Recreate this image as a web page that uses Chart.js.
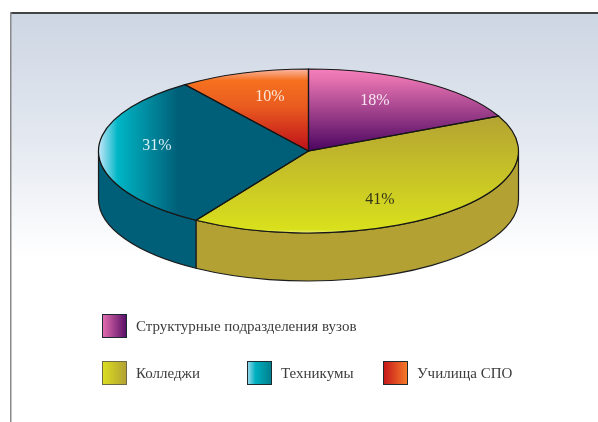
<!DOCTYPE html>
<html>
<head>
<meta charset="utf-8">
<style>
html, body { margin: 0; padding: 0; background: #fff; }
canvas { display: block; }
</style>
<script src="https://cdn.jsdelivr.net/npm/chart.js@4"></script>
</head>
<body>
<canvas id="chart" width="598" height="422"></canvas>
<script>
// --- data ---
const categories = ['Структурные подразделения вузов', 'Колледжи', 'Техникумы', 'Училища СПО'];
const shares = [18, 41, 31, 10];
const shareLabels = ['18%', '41%', '31%', '10%'];

// --- layout ---
const labelSpots = [[375, 101], [380, 200], [157, 146], [270, 97]];
const labelColors = ['#f6e8f2', '#33351a', '#d8f0f4', '#fbe6d8'];
const legendSpots = [[102, 314], [102, 361], [247, 361], [383, 361]];
const wallColors = ['#4d0a5e', '#b3a233', '#005f78', '#c01018'];
const topY = 151, squash = 82 / 210, wallDepth = 48;

// stops are in units of the pie radius, measured from the centre
function sliceFill(chart, i) {
    const area = chart.chartArea;
    if (!area) return wallColors[i];
    const c = chart.ctx;
    const cx = (area.left + area.right) / 2, cy = (area.top + area.bottom) / 2, r = 210;
    let g;
    if (i === 0) {
        g = c.createLinearGradient(0, cy - r, 0, cy);
        g.addColorStop(0, '#f57fbc');
        g.addColorStop(0.12, '#e672b0');
        g.addColorStop(1, '#4a0560');
    } else if (i === 1) {
        g = c.createLinearGradient(0, cy - 0.45 * r, 0, cy + r);
        g.addColorStop(0, '#b3a233');
        g.addColorStop(0.97, '#d9e01c');
        g.addColorStop(1, '#eef07a');
    } else if (i === 2) {
        g = c.createLinearGradient(cx - r, 0, cx - 0.62 * r, 0);
        g.addColorStop(0, '#c4e8fa');
        g.addColorStop(0.24, '#00b6c6');
        g.addColorStop(0.34, '#00aabb');
        g.addColorStop(1, '#005f78');
    } else {
        g = c.createLinearGradient(0, cy - r, 0, cy);
        g.addColorStop(0, '#fbb7a6');
        g.addColorStop(0.14, '#f5711f');
        g.addColorStop(0.45, '#ea5c1f');
        g.addColorStop(1, '#bd0f1a');
    }
    return g;
}

function swatchFill(c, i, x, w) {
    const g = c.createLinearGradient(x, 0, x + w, 0);
    const stops = [['#e76fb0', '#5a1068'], ['#dce01f', '#b3a233'], ['#a8def0', '#00808f'], ['#c4141a', '#f57a28']][i];
    g.addColorStop(0, stops[0]);
    if (i === 2) g.addColorStop(0.35, '#00b0c0');
    g.addColorStop(1, stops[1]);
    return g;
}

function applySquash(c, x, y) {
    c.translate(x, topY);
    c.scale(1, squash);
    c.translate(-x, -y);
}

// frame and sky behind everything
const backdrop = {
    id: 'backdrop',
    beforeDraw(chart) {
        const c = chart.ctx;
        const g = c.createLinearGradient(0, 14, 0, 258);
        g.addColorStop(0, '#cdd6e3');
        g.addColorStop(0.5, '#e3e8f0');
        g.addColorStop(1, '#ffffff');
        c.save();
        c.fillStyle = '#fff';
        c.fillRect(0, 0, 598, 422);
        c.fillStyle = g;
        c.fillRect(11, 14, 587, 244);
        c.fillStyle = '#444';
        c.fillRect(10, 12, 588, 2);
        c.fillStyle = '#8a8a8a';
        c.fillRect(10, 12, 1.5, 410);
        c.restore();
    }
};

// side wall first, then flatten the pie, then outlines and text on top
const tilt = {
    id: 'tilt',
    beforeDatasetsDraw(chart) {
        const c = chart.ctx;
        const arcs = chart.getDatasetMeta(0).data;
        arcs.forEach((arc, i) => {
            const a0 = Math.max(arc.startAngle, 0), a1 = Math.min(arc.endAngle, Math.PI);
            if (a1 <= a0) return;
            const rx = arc.outerRadius, ry = rx * squash;
            c.beginPath();
            c.ellipse(arc.x, topY, rx, ry, 0, a0, a1);
            c.ellipse(arc.x, topY + wallDepth, rx, ry, 0, a1, a0, true);
            c.closePath();
            c.fillStyle = wallColors[i];
            c.fill();
            c.lineWidth = 1.2;
            c.strokeStyle = '#1c1c1c';
            c.stroke();
        });
        c.save();
        applySquash(c, arcs[0].x, arcs[0].y);
    },
    afterDatasetsDraw(chart) {
        const c = chart.ctx;
        c.restore();
        chart.getDatasetMeta(0).data.forEach(arc => {
            c.save();
            applySquash(c, arc.x, arc.y);
            c.beginPath();
            c.moveTo(arc.x, arc.y);
            c.arc(arc.x, arc.y, arc.outerRadius, arc.startAngle, arc.endAngle);
            c.closePath();
            c.restore();
            c.lineWidth = 1.2;
            c.strokeStyle = '#161616';
            c.stroke();
        });
    },
    afterDraw(chart) {
        const c = chart.ctx;
        c.save();
        c.textBaseline = 'middle';
        c.font = '16px "Liberation Serif"';
        c.textAlign = 'center';
        shareLabels.forEach((txt, i) => {
            c.fillStyle = labelColors[i];
            c.fillText(txt, labelSpots[i][0], labelSpots[i][1]);
        });
        c.font = '15px "Liberation Serif"';
        c.textAlign = 'left';
        categories.forEach((name, i) => {
            const [x, y] = legendSpots[i];
            c.fillStyle = swatchFill(c, i, x, 24);
            c.fillRect(x, y, 24, 23);
            c.lineWidth = 1;
            c.strokeStyle = i === 1 ? '#6f6a45' : '#1d2a30';
            c.strokeRect(x + 0.5, y + 0.5, 24, 23);
            c.fillStyle = '#3c3c3c';
            c.fillText(name, x + 34, y + 13);
        });
        c.restore();
    }
};

new Chart(document.getElementById('chart'), {
    type: 'pie',
    data: {
        labels: categories,
        datasets: [{
            data: shares,
            backgroundColor: ctx => sliceFill(ctx.chart, ctx.dataIndex),
            borderWidth: 0,
            clip: false
        }]
    },
    options: {
        responsive: false,
        animation: false,
        layout: { padding: { left: 98.5, right: 79.5, top: 0, bottom: 0 } },
        plugins: { legend: { display: false }, tooltip: { enabled: false } }
    },
    plugins: [backdrop, tilt]
});
</script>
</body>
</html>
